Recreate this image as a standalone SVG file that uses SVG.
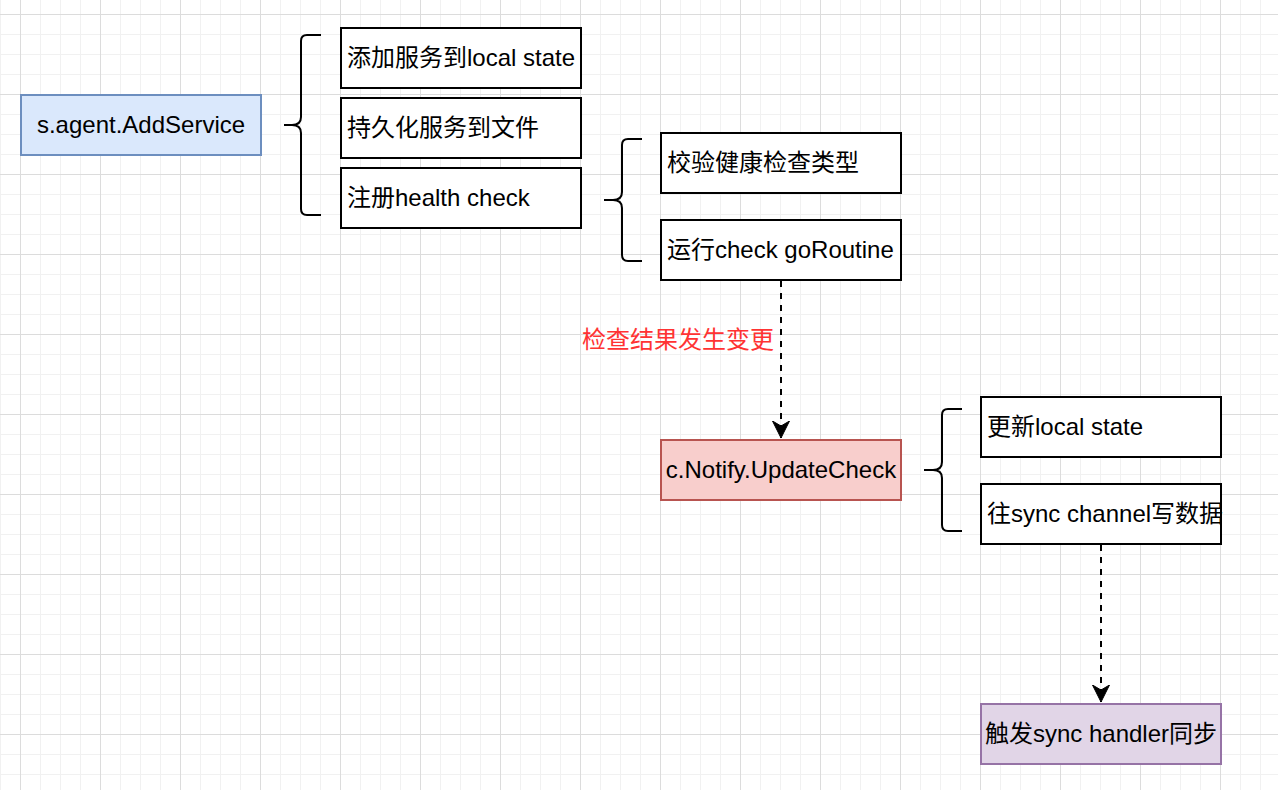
<svg xmlns="http://www.w3.org/2000/svg" width="1278" height="790" viewBox="0 0 1278 790">
<style>
.box{fill:#ffffff;stroke:#000000;stroke-width:2}
.blue{fill:#dae8fc;stroke:#6c8ebf;stroke-width:2}
.red{fill:#f8cecc;stroke:#b85450;stroke-width:2}
.purple{fill:#e1d5e7;stroke:#9673a6;stroke-width:2}
.brace{fill:none;stroke:#000000;stroke-width:2;stroke-linejoin:round}
.t{font-family:"Liberation Sans","Noto Sans CJK SC",sans-serif;font-size:24px;fill:#000000}
.c{text-anchor:middle}
.lbl{font-family:"Liberation Sans","Noto Sans CJK SC",sans-serif;font-size:24px;fill:#ff3333;text-anchor:middle}
.edge{fill:none;stroke:#000000;stroke-width:2;stroke-dasharray:6 6}
</style>
<defs>
<pattern id="grid" patternUnits="userSpaceOnUse" x="20" y="14" width="80" height="80">
<rect x="20" y="0" width="1" height="80" fill="#f1f1f1"/>
<rect x="40" y="0" width="1" height="80" fill="#f1f1f1"/>
<rect x="60" y="0" width="1" height="80" fill="#f1f1f1"/>
<rect x="0" y="20" width="80" height="1" fill="#f1f1f1"/>
<rect x="0" y="40" width="80" height="1" fill="#f1f1f1"/>
<rect x="0" y="60" width="80" height="1" fill="#f1f1f1"/>
<rect x="0" y="0" width="1" height="80" fill="#dcdcdc"/>
<rect x="0" y="0" width="80" height="1" fill="#dcdcdc"/>
</pattern>
<marker id="arrow" markerUnits="userSpaceOnUse" markerWidth="20" markerHeight="20" refX="17" refY="9" orient="auto">
<path d="M0,0.5 L17,9 L0,17.5 L5,9 Z" fill="#000000" stroke="#000000" stroke-width="1"/>
</marker>
</defs>
<rect x="0" y="0" width="1278" height="790" fill="#ffffff"/>
<rect x="0" y="0" width="1278" height="790" fill="url(#grid)"/>

<g id="connectors">
<path class="edge" d="M781,281 V438" marker-end="url(#arrow)"/>
<text class="lbl" x="678" y="348">检查结果发生变更</text>
<path class="edge" d="M1101,545 V702" marker-end="url(#arrow)"/>
</g>

<g id="brace1"><path class="brace" d="M321,35 H307 Q301,35 301,41 V117 Q301,125 292,125 H284 M292,125 Q301,125 301,133 V209 Q301,215 307,215 H321"/></g>
<g id="brace2"><path class="brace" d="M642,139 H628 Q622,139 622,145 V192 Q622,200 613,200 H604 M613,200 Q622,200 622,208 V255 Q622,261 628,261 H642"/></g>
<g id="brace3"><path class="brace" d="M962,409 H948 Q942,409 942,415 V462 Q942,470 933,470 H924 M933,470 Q942,470 942,478 V525 Q942,531 948,531 H962"/></g>

<g id="addService"><rect class="blue" x="21" y="95" width="240" height="60"/><text class="t c" x="141" y="133">s.agent.AddService</text></g>
<g id="localState"><rect class="box" x="341" y="28" width="240" height="60"/><text class="t" x="347" y="66">添加服务到local state</text></g>
<g id="persist"><rect class="box" x="341" y="98" width="240" height="60"/><text class="t" x="347" y="136">持久化服务到文件</text></g>
<g id="registerCheck"><rect class="box" x="341" y="168" width="240" height="60"/><text class="t" x="347" y="206">注册health check</text></g>
<g id="validateCheck"><rect class="box" x="661" y="133" width="240" height="60"/><text class="t" x="667" y="171">校验健康检查类型</text></g>
<g id="runCheck"><rect class="box" x="661" y="220" width="240" height="60"/><text class="t" x="667" y="258">运行check goRoutine</text></g>
<g id="updateCheck"><rect class="red" x="661" y="440" width="240" height="60"/><text class="t c" x="781" y="478">c.Notify.UpdateCheck</text></g>
<g id="updateLocal"><rect class="box" x="981" y="397" width="240" height="60"/><text class="t" x="987" y="435">更新local state</text></g>
<g id="writeSync"><rect class="box" x="981" y="484" width="240" height="60"/><text class="t" x="987" y="522">往sync channel写数据</text></g>
<g id="syncHandler"><rect class="purple" x="981" y="704" width="240" height="60"/><text class="t c" x="1101" y="742">触发sync handler同步</text></g>
</svg>
